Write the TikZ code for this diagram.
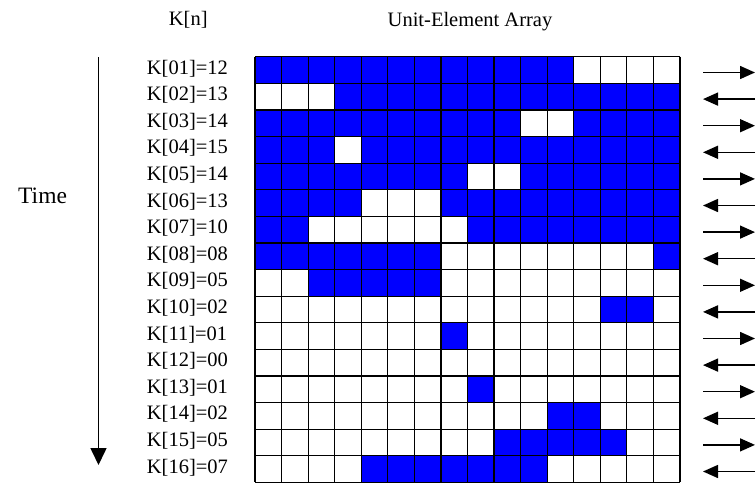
\documentclass[tikz,border=0pt]{standalone}
\usepackage{fontspec}
\setmainfont{Liberation Serif}
\usetikzlibrary{arrows.meta}
\definecolor{ublue}{RGB}{0,0,255}
\tikzset{
  lab/.style={inner sep=0pt, font=\fontsize{20.5}{24}\selectfont},
  gridln/.style={line width=1.2pt, black},
  dirarrow/.style={line width=1.5pt, -{Triangle[length=15pt,width=13pt]}},
  timearrow/.style={line width=1.6pt, -{Triangle[length=17pt,width=16pt]}}
}
\begin{document}
\begin{tikzpicture}[x=1pt,y=-1pt]
\useasboundingbox (0,0) rectangle (756,485);
\def\gx{255}
\def\gy{56.7}
\def\cw{26.5625}
\def\rh{26.6}
% filled cells
\foreach \r/\a/\b in {1/1/12, 2/4/16, 3/1/10, 3/13/16, 4/1/3, 4/5/16, 5/1/8, 5/11/16,
  6/1/4, 6/8/16, 7/1/2, 7/9/16, 8/1/7, 8/16/16, 9/3/7, 10/14/15, 11/8/8, 13/9/9,
  14/12/13, 15/10/14, 16/5/11}
  \fill[ublue] ({\gx+(\a-1)*\cw},{\gy+(\r-1)*\rh}) rectangle ({\gx+\b*\cw},{\gy+\r*\rh});
% grid lines
\foreach \i in {0,...,16}{
  \draw[gridln] ({\gx+\i*\cw},{\gy}) -- ({\gx+\i*\cw},{\gy+16*\rh});
  \draw[gridln] ({\gx},{\gy+\i*\rh}) -- ({\gx+16*\cw},{\gy+\i*\rh});
}
% headings
\node[lab, anchor=base] (kn) at (188.3,25.5) {K[n]};
\node[lab, anchor=base] (title) at (470,26.7) {Unit-Element Array};
\node[lab, font=\fontsize{23.5}{28}\selectfont, anchor=base west] (time) at (18,203) {Time};
% row labels
\foreach \r/\t in {1/K[01]=12, 2/K[02]=13, 3/K[03]=14, 4/K[04]=15, 5/K[05]=14, 6/K[06]=13,
  7/K[07]=10, 8/K[08]=08, 9/K[09]=05, 10/K[10]=02, 11/K[11]=01, 12/K[12]=00,
  13/K[13]=01, 14/K[14]=02, 15/K[15]=05, 16/K[16]=07}
  \node[lab, anchor=base west] (k\r) at (146.7,{\gy+(\r-0.5)*\rh+4}) {\t};
% time arrow
\coordinate (ts) at (98.5,57);
\coordinate (te) at (98.5,465);
\draw[timearrow] (ts) -- (te);
% direction arrows
\foreach \r in {1,...,16}{
  \coordinate (al\r) at (703,{\gy+(\r-0.5)*\rh+2.5});
  \coordinate (ar\r) at (755,{\gy+(\r-0.5)*\rh+2.5});
  \ifodd\r
    \draw[dirarrow] (al\r) -- (ar\r);
  \else
    \draw[dirarrow] (ar\r) -- (al\r);
  \fi
}
\end{tikzpicture}
\end{document}
